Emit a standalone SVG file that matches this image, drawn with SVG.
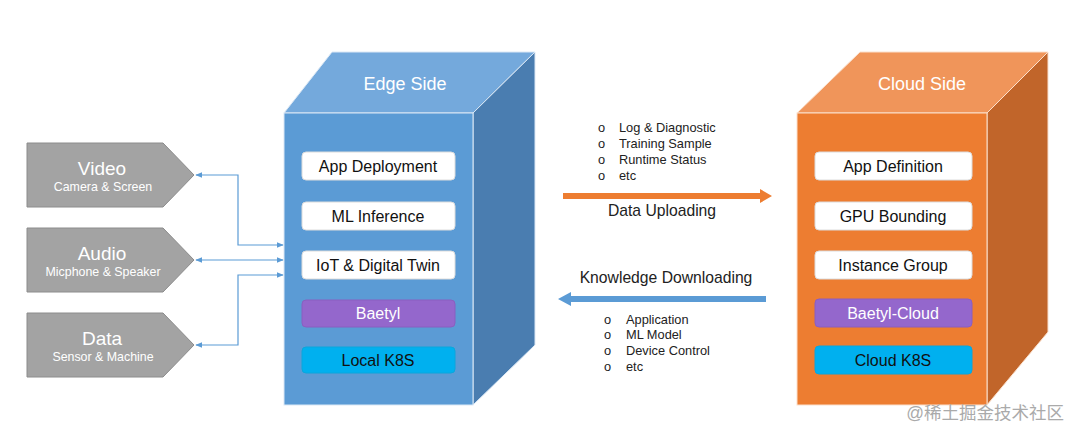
<svg xmlns="http://www.w3.org/2000/svg" width="1080" height="442" viewBox="0 0 1080 442">
<defs>
<style>
text{font-family:"Liberation Sans",Arial,sans-serif}
.src{fill:#a3a3a3;stroke:#8c8c8c;stroke-width:1}
.srcT{fill:#fff;font-size:19px;text-anchor:middle}
.srcS{fill:#fff;font-size:12.4px;text-anchor:middle}
.box{fill:#fff;stroke:#dcdcdc;stroke-width:1}
.boxT{fill:#111;font-size:16px;text-anchor:middle}
.purple{fill:#9467cc;stroke:#8a5fc0;stroke-width:1}
.cyan{fill:#00b0ef;stroke:#0aa6dc;stroke-width:1}
.lightT{fill:#fff;font-size:16px;text-anchor:middle}
.title{fill:#fff;font-size:18px;text-anchor:middle}
.lst{fill:#222;font-size:12.8px}
.mid{fill:#222;font-size:15.7px;text-anchor:middle}
.conn{fill:none;stroke:#5b9bd5;stroke-width:1.2}
</style>
<marker id="ah" viewBox="0 0 10 10" refX="9" refY="5" markerWidth="7" markerHeight="7" markerUnits="userSpaceOnUse" orient="auto-start-reverse">
<path d="M0,1 L10,5 L0,9 z" fill="#5b9bd5"/>
</marker>
</defs>

<g id="video">
<path class="src" d="M27,143 H163 L194,175 L163,207 H27 Z"/>
<text class="srcT" x="102" y="175">Video</text>
<text class="srcS" x="103" y="191">Camera &amp; Screen</text>
</g>
<g id="audio">
<path class="src" d="M27,228 H163 L194,260 L163,292 H27 Z"/>
<text class="srcT" x="102" y="260">Audio</text>
<text class="srcS" x="103" y="276">Micphone &amp; Speaker</text>
</g>
<g id="data">
<path class="src" d="M27,313 H163 L194,345 L163,377 H27 Z"/>
<text class="srcT" x="102" y="345">Data</text>
<text class="srcS" x="103" y="361">Sensor &amp; Machine</text>
</g>

<g id="edge-side">
<path d="M284,113 L332,52 H535 L473,113 Z" fill="#74a9dc" stroke="#dbe8f5" stroke-width="1"/>
<path d="M473,113 L535,52 V345 L473,405 Z" fill="#4a7db0" stroke="#dbe8f5" stroke-width="1"/>
<rect x="284" y="113" width="189" height="292" fill="#5b9bd5" stroke="#dbe8f5" stroke-width="1"/>
<text class="title" x="405" y="90">Edge Side</text>
<rect class="box" x="302" y="152" width="153" height="28" rx="4"/>
<text class="boxT" x="378" y="172">App Deployment</text>
<rect class="box" x="302" y="202" width="153" height="28" rx="4"/>
<text class="boxT" x="378" y="222">ML Inference</text>
<rect class="box" x="302" y="251" width="153" height="28" rx="4"/>
<text class="boxT" x="378" y="271">IoT &amp; Digital Twin</text>
<rect class="purple" x="302" y="300" width="153" height="27" rx="4"/>
<text class="lightT" x="378" y="319">Baetyl</text>
<rect class="cyan" x="302" y="347" width="153" height="26" rx="4"/>
<text class="boxT" x="378" y="366">Local K8S</text>
</g>

<g id="cloud-side">
<path d="M797,113 L860,52 H1048 L987,113 Z" fill="#f0955a" stroke="#fbe0cc" stroke-width="1"/>
<path d="M987,113 L1048,52 V332 L987,405 Z" fill="#c1652a" stroke="#fbe0cc" stroke-width="1"/>
<rect x="797" y="113" width="190" height="292" fill="#ed7d31" stroke="#fbe0cc" stroke-width="1"/>
<text class="title" x="922" y="90">Cloud Side</text>
<rect class="box" x="815" y="152" width="157" height="28" rx="4"/>
<text class="boxT" x="893" y="172">App Definition</text>
<rect class="box" x="815" y="202" width="157" height="28" rx="4"/>
<text class="boxT" x="893" y="222">GPU Bounding</text>
<rect class="box" x="815" y="251" width="157" height="28" rx="4"/>
<text class="boxT" x="893" y="271">Instance Group</text>
<rect class="purple" x="815" y="299" width="157" height="28" rx="4"/>
<text class="lightT" x="893" y="319">Baetyl-Cloud</text>
<rect class="cyan" x="815" y="346" width="157" height="28" rx="4"/>
<text class="boxT" x="893" y="366">Cloud K8S</text>
</g>

<g id="connectors">
<path class="conn" d="M196,175 H238 V245 H283" marker-start="url(#ah)" marker-end="url(#ah)"/>
<path class="conn" d="M196,260 H283" marker-start="url(#ah)" marker-end="url(#ah)"/>
<path class="conn" d="M196,345 H238 V275 H283" marker-start="url(#ah)" marker-end="url(#ah)"/>
<path d="M563,193 H760 V189 L772,196 L760,203 V199 H563 Z" fill="#ed7d31"/>
<path d="M766,296 H571 V292 L558,299 L571,306 V302 H766 Z" fill="#5b9bd5"/>
</g>

<g id="uploading">
<text class="lst" x="598" y="132">o</text>
<text class="lst" x="619" y="132">Log &amp; Diagnostic</text>
<text class="lst" x="598" y="148">o</text>
<text class="lst" x="619" y="148">Training Sample</text>
<text class="lst" x="598" y="164">o</text>
<text class="lst" x="619" y="164">Runtime Status</text>
<text class="lst" x="598" y="180">o</text>
<text class="lst" x="619" y="180">etc</text>
<text class="mid" x="662" y="216">Data Uploading</text>
</g>

<g id="downloading">
<text class="mid" x="666" y="283">Knowledge Downloading</text>
<text class="lst" x="604" y="324">o</text>
<text class="lst" x="626" y="324">Application</text>
<text class="lst" x="604" y="339">o</text>
<text class="lst" x="626" y="339">ML Model</text>
<text class="lst" x="604" y="355">o</text>
<text class="lst" x="626" y="355">Device Control</text>
<text class="lst" x="604" y="371">o</text>
<text class="lst" x="626" y="371">etc</text>
</g>

<text x="1064" y="419" text-anchor="end" font-size="17.5" fill="#aaaaaa" style="font-family:'Liberation Sans','Noto Sans CJK SC',sans-serif">@稀土掘金技术社区</text>
</svg>
